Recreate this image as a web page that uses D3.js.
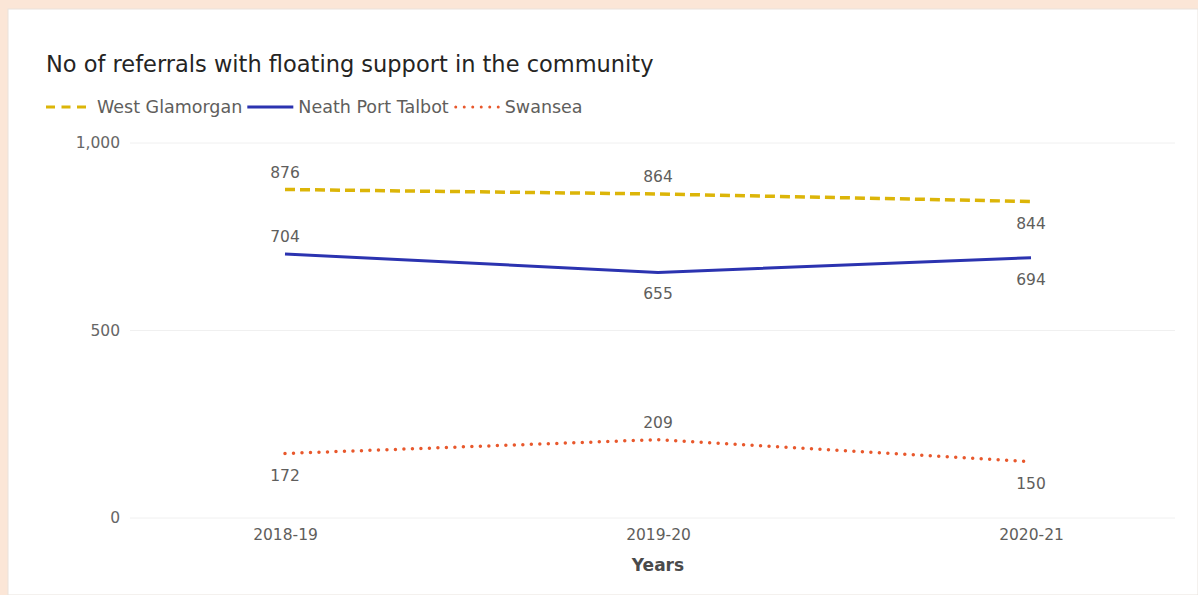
<!DOCTYPE html>
<html>
<head>
<meta charset="utf-8">
<script src="https://cdn.jsdelivr.net/npm/d3@7"></script>
<style>
  body { margin: 0; background: #fbe6d7; }
  svg { display: block; }
  text { font-family: "DejaVu Sans", sans-serif; }
</style>
</head>
<body>
<svg id="chart"></svg>
<script>
let years = ["2018-19", "2019-20", "2020-21"];
let westGlamorgan = [876, 864, 844];
let neathPortTalbot = [704, 655, 694];
let swansea = [172, 209, 150];
let yTicks = [0, 500, 1000];

let series = [
  { name: "West Glamorgan", values: westGlamorgan, color: "#dcb508", width: 3.5, dash: "10,5", legendDash: "9,6.5", cap: "butt", labelPos: ["above", "above", "below"] },
  { name: "Neath Port Talbot", values: neathPortTalbot, color: "#2b33b0", width: 3, dash: null, legendDash: null, cap: "butt", labelPos: ["above", "below", "below"] },
  { name: "Swansea", values: swansea, color: "#e8582c", width: 3.5, dash: "0,8.5", legendDash: "0,8.5", cap: "round", labelPos: ["below", "above", "below"] }
];

let width = 1198, height = 595;
let margin = { top: 143, bottom: 77, left: 130, right: 23 };
let svg = d3.select("#chart").attr("width", width).attr("height", height);

// card
svg.append("rect").attr("x", 8).attr("y", 9).attr("width", width - 8).attr("height", height - 9)
  .attr("fill", "#ffffff").attr("stroke", "#e9e2dc").attr("stroke-width", 1);

svg.append("text").attr("x", 46).attr("y", 72)
  .attr("font-size", 22.5).attr("fill", "#252423")
  .text("No of referrals with floating support in the community");

// legend
let legend = svg.append("g").attr("transform", "translate(46,107)");
let lx = 0;
series.forEach(s => {
  let g = legend.append("g").attr("transform", `translate(${lx},0)`);
  g.append("line").attr("x1", s.cap === "round" ? 2 : 0).attr("x2", 46).attr("y1", 0).attr("y2", 0)
    .attr("stroke", s.color).attr("stroke-width", 3)
    .attr("stroke-dasharray", s.legendDash)
    .attr("stroke-linecap", s.cap);
  let t = g.append("text").attr("x", 51).attr("y", 6)
    .attr("font-size", 17.5).attr("fill", "#605e5c").text(s.name);
  lx += 51 + t.node().getComputedTextLength() + 5;
});

let x = d3.scalePoint().domain(years).range([285, 1031]);
let y = d3.scaleLinear().domain([0, 1000]).range([height - margin.bottom, margin.top]);

// gridlines
svg.append("g").selectAll("line").data(yTicks).join("line")
  .attr("x1", margin.left).attr("x2", width - margin.right)
  .attr("y1", d => y(d)).attr("y2", d => y(d))
  .attr("stroke", "#f0f0f0").attr("stroke-width", 1);

let axisY = d3.axisLeft(y).tickValues(yTicks).tickSize(0).tickPadding(0).tickFormat(d3.format(","));
let gY = svg.append("g").attr("transform", `translate(120,0)`).call(axisY);
gY.select(".domain").remove();
gY.selectAll("text").attr("font-size", 15.5).attr("fill", "#666666").attr("dy", "0.32em");

let axisX = d3.axisBottom(x).tickSize(0).tickPadding(0);
let gX = svg.append("g").attr("transform", `translate(0,${y(0) + 11})`).call(axisX);
gX.select(".domain").remove();
gX.selectAll("text").attr("font-size", 15.5).attr("fill", "#605e5c").attr("dy", "0.71em");

svg.append("text").attr("x", x("2019-20")).attr("y", 571).attr("text-anchor", "middle")
  .attr("font-size", 17).attr("font-weight", "bold").attr("fill", "#4a4a4a").text("Years");

let line = d3.line().x((d, i) => x(years[i])).y(d => y(d));

series.forEach(s => {
  svg.append("path").datum(s.values).attr("d", line)
    .attr("fill", "none").attr("stroke", s.color).attr("stroke-width", s.width)
    .attr("stroke-dasharray", s.dash).attr("stroke-linecap", s.cap);
  svg.append("g").selectAll("text").data(s.values).join("text")
    .attr("x", (d, i) => x(years[i]))
    .attr("y", (d, i) => s.labelPos[i] === "above" ? y(d) - 12 : y(d) + 27)
    .attr("text-anchor", "middle").attr("font-size", 15.5).attr("fill", "#605e5c")
    .text(d => d);
});
</script>
</body>
</html>
